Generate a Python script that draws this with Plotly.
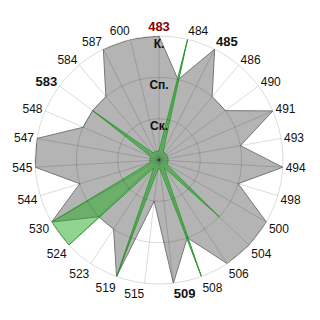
import plotly.graph_objects as go

categories = ["483", "484", "485", "486", "490", "491", "493", "494", "498", "500",
              "504", "506", "508", "509", "515", "519", "523", "524", "530", "544",
              "545", "547", "548", "583", "584", "587", "600"]
gray_values = [3, 2, 3, 2, 2, 3, 2, 3, 2, 3, 3, 3, 2, 3, 1, 3, 2, 2, 3, 2, 3, 3, 2, 2, 2, 3, 3]
green_values = [0.22, 3, 0.22, 0.22, 0.22, 0.22, 0.22, 0.22, 0.22, 0.22, 2, 0.22, 3, 0.22, 0.22, 3,
                0.22, 3, 3, 0.22, 0.22, 0.22, 0.22, 2, 0.22, 0.22, 0.22]
radial_tick_values = [1, 2, 3]
radial_tick_labels = ["Ск.", "Сп.", "К."]
bold_labels = {"485", "509", "583"}
red_labels = {"483"}

LABEL_SHIFT = 0.21

def tick_text(c):
    if c in red_labels:
        return "<b><span style='color:#8b0000;font-size:13px'>" + c + "</span></b>"
    if c in bold_labels:
        return "<b><span style='font-size:13px'>" + c + "</span></b>"
    return c

ticktext = [tick_text(c) for c in categories]

fig = go.Figure()
fig.add_trace(go.Scatterpolar(
    r=gray_values + gray_values[:1], theta=categories + categories[:1],
    mode="lines", fill="toself", fillcolor="#b4b4b4",
    line=dict(color="#777777", width=1), subplot="polar",
    hoverinfo="skip", showlegend=False))
fig.add_trace(go.Scatterpolar(
    r=green_values + green_values[:1], theta=categories + categories[:1],
    mode="lines", fill="toself", fillcolor="rgba(34,170,34,0.5)",
    line=dict(color="#33a333", width=1), subplot="polar",
    hoverinfo="skip", showlegend=False))
# overlay subplot carrying grid and labels above the fills
fig.add_trace(go.Scatterpolar(
    r=gray_values, theta=categories, mode="lines",
    line=dict(width=0, color="rgba(0,0,0,0)"), subplot="polar2",
    hoverinfo="skip", showlegend=False))
fig.add_trace(go.Scatterpolar(
    r=[v - LABEL_SHIFT for v in radial_tick_values],
    theta=[categories[0]] * len(radial_tick_values),
    mode="text", text=[f"<b>{t}</b>" for t in radial_tick_labels],
    textposition="middle center",
    textfont=dict(family="Liberation Sans, Arial, sans-serif", size=12, color="#111111"),
    subplot="polar2", hoverinfo="skip", showlegend=False))

domain = dict(x=[35 / 320, 283 / 320], y=[36 / 320, 284 / 320])
grid_col = "rgba(0,0,0,0.14)"

fig.update_layout(
    width=320, height=320,
    margin=dict(l=0, r=0, t=0, b=0),
    paper_bgcolor="white",
    font=dict(family="Liberation Sans, Arial, sans-serif", size=12, color="#111111"),
    polar=dict(
        domain=domain, bgcolor="white",
        angularaxis=dict(type="category", categoryorder="array", categoryarray=categories,
                         rotation=90, direction="clockwise", showgrid=False,
                         showticklabels=False, showline=False, ticks=""),
        radialaxis=dict(range=[0, 3], visible=False),
    ),
    polar2=dict(
        domain=domain, bgcolor="rgba(0,0,0,0)",
        angularaxis=dict(type="category", categoryorder="array", categoryarray=categories,
                         rotation=90, direction="clockwise", showgrid=True,
                         gridcolor=grid_col, linecolor=grid_col, showline=True,
                         ticks="", tickmode="array", tickvals=categories, ticktext=ticktext,
                         tickfont=dict(size=12, color="#111111")),
        radialaxis=dict(range=[0, 3], tickvals=radial_tick_values[:-1], showticklabels=False,
                        gridcolor=grid_col, showline=False, ticks=""),
    ),
)

fig.write_html("out.html")
